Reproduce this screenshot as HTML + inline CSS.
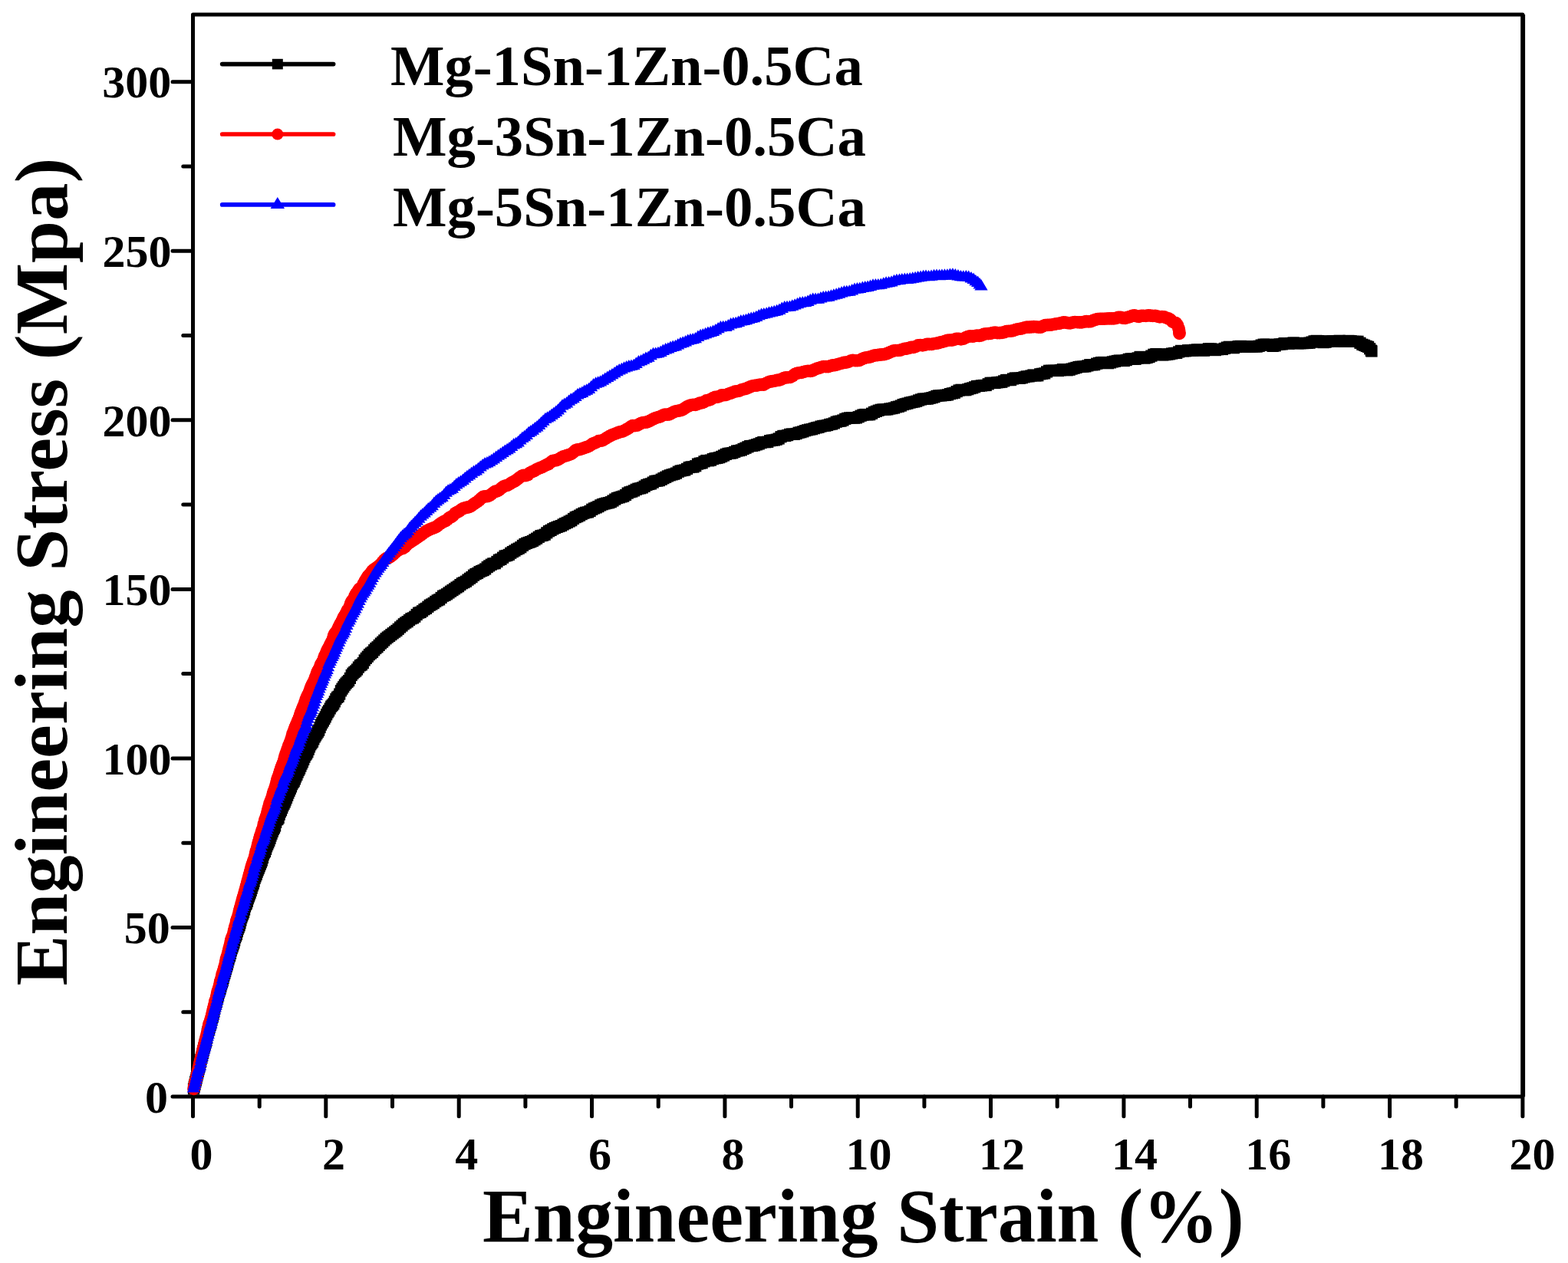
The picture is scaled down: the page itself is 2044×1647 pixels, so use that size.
<!DOCTYPE html>
<html><head><meta charset="utf-8"><title>Engineering stress-strain curves</title>
<style>html,body{margin:0;padding:0;background:#fff;}svg{display:block;}</style></head>
<body><svg width="2044" height="1647" viewBox="0 0 2044 1647">
<defs>
<marker id="sq" markerUnits="userSpaceOnUse" markerWidth="20" markerHeight="20" refX="10" refY="10" overflow="visible"><rect x="2.4" y="2.4" width="15.2" height="15.2" fill="#000"/></marker>
<marker id="ci" markerUnits="userSpaceOnUse" markerWidth="20" markerHeight="20" refX="10" refY="10" overflow="visible"><circle cx="10" cy="10" r="8.3" fill="#f00"/></marker>
<marker id="tr" markerUnits="userSpaceOnUse" markerWidth="24" markerHeight="24" refX="12" refY="12" overflow="visible"><path d="M12 2.4 L20.6 16.8 L3.4 16.8 Z" fill="#00f"/></marker>
<marker id="lsq" markerUnits="userSpaceOnUse" markerWidth="20" markerHeight="20" refX="10" refY="10" overflow="visible"><rect x="3" y="3.2" width="14" height="13.6" fill="#000"/></marker>
<marker id="lci" markerUnits="userSpaceOnUse" markerWidth="20" markerHeight="20" refX="10" refY="10" overflow="visible"><circle cx="10" cy="10" r="7.6" fill="#f00"/></marker>
<marker id="ltr" markerUnits="userSpaceOnUse" markerWidth="24" markerHeight="24" refX="12" refY="12" overflow="visible"><path d="M12 2 L21.2 17 L2.8 17 Z" fill="#00f"/></marker>
</defs>
<rect width="2044" height="1647" fill="#fff"/>
<path d="M225.0 1430.0H251.5 M238.8 1319.7H251.5 M225.0 1209.5H251.5 M238.8 1099.2H251.5 M225.0 988.9H251.5 M238.8 878.6H251.5 M225.0 768.4H251.5 M238.8 658.1H251.5 M225.0 547.8H251.5 M238.8 437.5H251.5 M225.0 327.2H251.5 M238.8 217.0H251.5 M225.0 106.7H251.5 M251.5 1430.0V1455.8 M338.2 1430.0V1443.0 M424.8 1430.0V1455.8 M511.5 1430.0V1443.0 M598.2 1430.0V1455.8 M684.9 1430.0V1443.0 M771.5 1430.0V1455.8 M858.2 1430.0V1443.0 M944.9 1430.0V1455.8 M1031.5 1430.0V1443.0 M1118.2 1430.0V1455.8 M1204.9 1430.0V1443.0 M1291.5 1430.0V1455.8 M1378.2 1430.0V1443.0 M1464.9 1430.0V1455.8 M1551.5 1430.0V1443.0 M1638.2 1430.0V1455.8 M1724.9 1430.0V1443.0 M1811.6 1430.0V1455.8 M1898.2 1430.0V1443.0 M1984.9 1430.0V1455.8" stroke="#000" stroke-width="5" stroke-linecap="round" fill="none"/>
<rect x="251.5" y="19.1" width="1733.4" height="1410.9" fill="none" stroke="#000" stroke-width="5" stroke-linejoin="round"/>
<line x1="1985.3" y1="19.1" x2="1985.3" y2="1430.0" stroke="#000" stroke-width="5.6"/>
<polyline points="252.5,1420.0 253.2,1417.1 254.0,1414.2 254.7,1410.8 255.4,1408.6 256.1,1405.8 256.9,1402.5 257.6,1399.9 258.3,1397.2 259.1,1394.1 259.8,1391.2 260.6,1388.1 261.3,1384.8 262.0,1381.7 262.8,1379.1 263.5,1376.6 264.3,1373.6 265.0,1370.2 265.8,1367.0 266.5,1364.4 267.3,1361.7 268.1,1359.2 268.8,1357.1 269.6,1353.3 270.3,1348.3 271.1,1345.3 271.9,1343.6 272.7,1341.3 273.4,1338.7 274.2,1336.6 275.0,1333.9 275.8,1329.8 276.6,1327.1 277.3,1325.5 278.1,1322.5 278.9,1318.8 279.7,1314.9 280.5,1311.5 281.3,1309.3 282.1,1306.6 282.9,1303.0 283.7,1300.2 284.5,1297.6 285.3,1294.6 286.2,1292.0 287.0,1289.5 287.8,1286.5 288.6,1283.6 289.4,1281.3 290.3,1278.8 291.1,1275.3 291.9,1272.0 292.8,1269.3 293.6,1266.6 294.5,1263.6 295.3,1260.6 296.2,1258.0 297.0,1254.8 297.9,1251.2 298.7,1248.6 299.6,1246.3 300.5,1243.3 301.3,1239.7 302.2,1236.8 303.1,1234.5 304.0,1231.8 304.9,1229.3 305.7,1226.2 306.6,1222.6 307.5,1220.5 308.4,1218.4 309.3,1214.7 310.2,1211.5 311.1,1209.3 312.1,1206.8 313.0,1203.8 313.9,1200.1 314.8,1196.6 315.7,1194.1 316.7,1191.8 317.6,1189.5 318.6,1186.1 319.5,1182.1 320.4,1179.6 321.4,1178.1 322.4,1175.3 323.3,1171.8 324.3,1169.1 325.2,1166.7 326.2,1164.2 327.2,1161.4 328.2,1158.2 329.2,1154.9 330.2,1152.3 331.1,1149.2 332.1,1145.4 333.1,1142.9 334.2,1140.4 335.2,1137.2 336.2,1134.7 337.2,1132.3 338.2,1129.8 339.3,1127.1 340.3,1124.6 341.3,1122.1 342.4,1118.6 343.4,1114.6 344.5,1112.0 345.5,1110.4 346.6,1107.3 347.6,1103.8 348.7,1101.2 349.8,1098.8 350.9,1096.3 352.0,1093.3 353.0,1090.0 354.1,1087.2 355.2,1084.4 356.3,1081.6 357.5,1079.6 358.6,1077.0 359.7,1072.3 360.8,1068.9 361.9,1068.3 363.1,1066.6 364.2,1062.2 365.4,1058.7 366.5,1056.6 367.7,1053.6 368.8,1050.6 370.0,1048.3 371.2,1045.9 372.3,1043.0 373.5,1040.3 374.7,1037.2 375.9,1034.1 377.1,1031.3 378.3,1028.6 379.5,1025.9 380.7,1022.7 381.9,1020.5 383.2,1018.8 384.4,1015.9 385.6,1012.9 386.9,1010.3 388.1,1007.2 389.4,1004.5 390.6,1002.2 391.9,999.1 393.1,996.1 394.4,993.7 395.7,990.6 397.0,987.2 398.3,984.6 399.6,982.9 400.9,980.7 402.2,977.3 403.5,973.9 404.8,970.9 406.1,969.0 407.5,967.2 408.8,964.0 410.2,961.0 411.5,958.9 412.9,956.7 414.3,954.6 415.7,952.2 417.1,948.6 418.5,945.1 419.9,942.5 421.3,940.1 422.8,937.5 424.2,934.9 425.7,931.8 427.2,928.9 428.6,926.9 430.2,924.0 431.7,921.2 433.2,919.7 434.8,917.9 436.3,914.9 437.9,911.6 439.5,909.4 441.1,908.3 442.7,905.1 444.4,900.8 446.0,898.2 447.7,895.8 449.4,893.2 451.1,891.1 452.9,889.3 454.6,887.6 456.4,884.4 458.2,880.5 460.0,878.2 461.8,876.5 463.7,875.0 465.5,873.0 467.4,870.1 469.4,867.8 471.3,866.9 473.3,864.7 475.2,861.0 477.3,858.4 479.3,856.2 481.4,853.7 483.4,852.0 485.5,850.5 487.7,847.8 489.8,845.5 492.0,843.8 494.2,841.4 496.4,839.1 498.6,837.2 500.8,835.0 503.1,832.8 505.3,831.0 507.6,829.4 509.9,827.6 512.2,825.8 514.6,824.1 516.9,822.4 519.2,820.3 521.6,818.0 524.0,816.0 526.3,813.8 528.7,812.1 531.1,810.7 533.5,808.6 535.9,806.8 538.4,805.9 540.8,804.2 543.2,801.5 545.6,799.2 548.1,798.5 550.5,796.8 553.0,794.7 555.4,793.4 557.9,791.3 560.3,789.2 562.8,788.0 565.2,786.6 567.7,784.5 570.2,782.9 572.6,781.9 575.1,779.5 577.6,777.2 580.1,776.2 582.5,774.8 585.0,773.0 587.5,771.2 590.0,769.6 592.5,767.9 595.0,766.1 597.5,764.7 599.9,762.6 602.4,760.7 604.9,759.6 607.4,758.2 610.0,756.1 612.5,754.3 615.0,752.6 617.5,750.2 620.0,748.6 622.5,747.5 625.0,745.7 627.6,744.5 630.1,743.6 632.6,742.0 635.2,739.6 637.7,737.9 640.3,736.2 642.8,734.9 645.3,734.7 647.9,732.5 650.4,730.2 653.0,729.3 655.6,727.2 658.1,725.0 660.7,724.5 663.3,723.4 665.8,721.2 668.4,719.6 671.0,718.1 673.6,716.4 676.2,715.2 678.8,713.7 681.4,711.4 684.0,709.5 686.6,708.3 689.2,707.4 691.8,706.6 694.4,705.4 697.0,703.8 699.6,702.2 702.3,700.3 704.9,698.7 707.5,698.2 710.2,697.2 712.8,694.8 715.5,692.7 718.1,691.4 720.8,689.8 723.4,688.5 726.1,687.4 728.7,686.5 731.4,685.6 734.1,684.0 736.7,682.6 739.4,681.4 742.1,680.0 744.8,678.7 747.5,676.5 750.2,674.6 752.8,673.6 755.5,672.2 758.2,670.6 760.9,669.2 763.7,668.3 766.4,667.9 769.1,666.5 771.8,664.3 774.5,662.9 777.2,661.9 779.9,660.6 782.7,658.9 785.4,657.7 788.1,656.9 790.8,656.1 793.6,655.7 796.3,654.7 799.0,653.0 801.8,651.1 804.5,649.5 807.2,648.8 810.0,647.9 812.7,647.1 815.5,645.5 818.2,643.1 821.0,641.8 823.7,641.1 826.4,639.9 829.2,638.3 831.9,637.2 834.7,636.8 837.4,635.9 840.2,634.2 842.9,632.4 845.7,631.5 848.4,630.9 851.2,629.1 853.9,627.4 856.7,627.1 859.4,626.6 862.2,625.2 864.9,623.7 867.7,622.3 870.4,620.9 873.2,619.8 876.0,618.9 878.8,618.2 881.5,617.1 884.3,615.2 887.1,614.0 889.9,613.5 892.7,613.0 895.5,611.4 898.3,609.5 901.1,608.9 903.9,609.0 906.7,607.7 909.5,605.1 912.3,604.2 915.1,603.8 918.0,601.8 920.8,600.5 923.6,600.8 926.4,600.1 929.3,598.6 932.1,597.7 934.9,597.3 937.8,596.6 940.6,595.4 943.5,594.0 946.3,592.4 949.1,591.4 952.0,591.1 954.8,590.7 957.7,589.4 960.6,588.0 963.4,587.6 966.3,586.9 969.1,585.4 972.0,584.2 974.9,582.8 977.7,581.6 980.6,581.4 983.5,580.8 986.3,579.8 989.2,578.9 992.1,577.5 994.9,576.5 997.8,576.7 1000.7,576.3 1003.6,574.7 1006.4,574.1 1009.3,574.0 1012.2,573.2 1015.1,572.0 1018.0,569.7 1020.9,568.4 1023.7,568.4 1026.6,567.6 1029.5,566.4 1032.4,566.0 1035.3,566.3 1038.2,565.5 1041.1,564.2 1043.9,563.7 1046.8,562.8 1049.7,561.6 1052.6,560.8 1055.5,560.1 1058.4,559.7 1061.3,558.7 1064.2,557.8 1067.1,557.2 1070.0,556.1 1072.8,555.4 1075.7,555.2 1078.6,554.5 1081.5,553.5 1084.4,553.0 1087.3,551.9 1090.2,550.2 1093.1,549.4 1096.0,549.1 1098.9,548.0 1101.8,546.3 1104.7,545.4 1107.6,544.9 1110.5,544.7 1113.4,545.1 1116.3,544.9 1119.2,543.7 1122.1,542.2 1125.0,541.0 1127.9,540.5 1130.8,540.8 1133.7,540.7 1136.6,539.2 1139.5,537.4 1142.4,536.3 1145.3,535.2 1148.2,534.3 1151.1,534.0 1154.0,534.1 1156.9,533.9 1159.8,533.0 1162.7,532.6 1165.6,532.0 1168.5,530.8 1171.4,530.2 1174.3,529.1 1177.2,527.6 1180.1,526.8 1183.0,526.1 1186.0,525.1 1188.9,524.5 1191.8,524.0 1194.7,523.2 1197.6,522.0 1200.5,521.0 1203.4,520.1 1206.3,520.2 1209.3,520.1 1212.2,519.2 1215.1,518.6 1218.0,517.7 1220.9,516.4 1223.8,515.9 1226.8,515.9 1229.7,515.5 1232.6,515.3 1235.5,514.9 1238.4,513.6 1241.4,512.9 1244.3,512.3 1247.2,510.6 1250.1,509.0 1253.0,508.3 1256.0,508.6 1258.9,508.7 1261.8,507.7 1264.7,506.6 1267.7,505.9 1270.6,504.8 1273.5,503.5 1276.5,503.4 1279.4,502.9 1282.3,502.5 1285.2,502.5 1288.2,500.8 1291.1,499.3 1294.0,499.4 1297.0,499.5 1299.9,498.8 1302.8,498.5 1305.8,498.2 1308.7,496.9 1311.7,495.5 1314.6,495.5 1317.5,495.6 1320.5,494.0 1323.4,493.0 1326.3,493.3 1329.3,493.3 1332.2,492.8 1335.2,491.8 1338.1,490.9 1341.1,490.9 1344.0,490.0 1347.0,489.0 1349.9,489.9 1352.8,489.8 1355.8,487.8 1358.7,487.3 1361.7,486.9 1364.6,484.9 1367.6,483.3 1370.5,483.3 1373.5,483.4 1376.4,483.4 1379.4,483.5 1382.3,482.7 1385.3,481.7 1388.3,482.2 1391.2,482.8 1394.2,482.2 1397.1,481.1 1400.1,480.2 1403.0,479.4 1406.0,478.5 1408.9,478.2 1411.9,478.1 1414.9,477.9 1417.8,476.9 1420.8,475.7 1423.7,475.8 1426.7,475.6 1429.7,474.2 1432.6,473.3 1435.6,472.7 1438.6,472.5 1441.5,473.4 1444.5,473.7 1447.5,472.9 1450.4,471.9 1453.4,471.2 1456.4,470.5 1459.3,470.1 1462.3,470.4 1465.3,470.5 1468.2,469.6 1471.2,468.4 1474.2,467.9 1477.1,468.1 1480.1,468.3 1483.1,466.9 1486.1,465.4 1489.0,466.2 1492.0,467.1 1495.0,466.5 1498.0,465.6 1500.9,464.1 1503.9,462.3 1506.9,461.6 1509.9,461.9 1512.8,462.5 1515.8,462.9 1518.8,462.6 1521.8,462.1 1524.7,461.8 1527.7,461.0 1530.7,460.5 1533.7,460.4 1536.7,458.9 1539.6,457.4 1542.6,457.9 1545.6,457.8 1548.6,456.8 1551.6,457.1 1554.6,457.3 1557.5,456.3 1560.5,456.0 1563.5,456.2 1566.5,456.7 1569.5,457.2 1572.5,456.4 1575.4,454.8 1578.4,454.9 1581.4,456.1 1584.4,456.6 1587.4,455.7 1590.4,455.4 1593.4,455.5 1596.4,454.4 1599.3,453.1 1602.3,452.3 1605.3,453.1 1608.3,453.7 1611.3,452.5 1614.3,451.6 1617.3,451.4 1620.3,451.9 1623.3,452.3 1626.3,451.9 1629.2,451.9 1632.2,451.9 1635.2,451.9 1638.2,452.1 1641.2,451.3 1644.2,450.1 1647.2,449.2 1650.2,449.2 1653.2,449.5 1656.2,450.2 1659.2,451.4 1662.2,450.9 1665.2,449.2 1668.2,448.9 1671.2,448.9 1674.1,447.6 1677.1,447.6 1680.1,448.2 1683.1,447.5 1686.1,447.0 1689.1,447.4 1692.1,447.8 1695.1,447.7 1698.1,447.6 1701.1,447.5 1704.1,447.4 1707.1,447.2 1710.1,446.1 1713.1,444.9 1716.1,444.4 1719.1,444.6 1722.1,445.7 1725.1,446.6 1728.1,446.2 1731.1,445.2 1734.1,444.8 1737.1,444.9 1740.1,445.0 1743.1,444.6 1746.1,444.3 1749.1,445.0 1752.1,445.3 1755.1,444.6 1758.1,444.4 1761.1,444.7 1764.1,445.4 1767.1,445.4 1770.0,445.3 1773.0,447.3 1775.9,449.3 1778.6,450.3 1781.2,451.5 1783.6,452.3 1785.7,454.8 1787.4,457.2 1788.0,458.0" fill="none" stroke="#000" stroke-width="5" stroke-linejoin="round" stroke-linecap="round" marker-start="url(#sq)" marker-mid="url(#sq)" marker-end="url(#sq)"/>
<polyline points="252.5,1420.0 253.2,1417.1 253.8,1414.2 254.5,1410.2 255.2,1409.0 255.9,1406.5 256.6,1402.8 257.3,1400.0 258.0,1396.9 258.7,1393.8 259.3,1391.1 260.0,1387.9 260.7,1384.4 261.4,1381.6 262.1,1379.1 262.9,1376.4 263.6,1373.4 264.3,1370.2 265.0,1367.1 265.7,1364.3 266.4,1361.9 267.1,1359.2 267.8,1356.2 268.6,1352.9 269.3,1349.7 270.0,1347.8 270.7,1345.1 271.5,1340.4 272.2,1336.4 272.9,1334.3 273.7,1332.6 274.4,1330.2 275.1,1327.6 275.9,1324.6 276.6,1321.3 277.4,1318.2 278.1,1315.3 278.8,1312.3 279.6,1308.7 280.3,1305.9 281.1,1304.0 281.8,1301.4 282.6,1297.4 283.3,1293.7 284.1,1291.5 284.9,1289.3 285.6,1286.6 286.4,1283.3 287.1,1279.9 287.9,1277.7 288.7,1274.9 289.4,1271.1 290.2,1268.7 291.0,1266.5 291.7,1263.5 292.5,1261.2 293.3,1258.8 294.0,1254.9 294.8,1250.9 295.6,1248.0 296.4,1245.5 297.2,1242.6 297.9,1239.5 298.7,1236.8 299.5,1233.9 300.3,1230.1 301.1,1226.2 301.8,1223.7 302.6,1222.3 303.4,1220.2 304.2,1217.4 305.0,1213.8 305.8,1210.4 306.6,1207.8 307.4,1204.6 308.1,1201.0 308.9,1198.7 309.7,1197.1 310.5,1194.2 311.3,1190.7 312.1,1187.3 312.9,1184.4 313.7,1182.0 314.5,1178.8 315.3,1175.5 316.1,1172.5 316.9,1169.7 317.7,1167.5 318.5,1164.9 319.3,1161.8 320.1,1159.0 320.9,1155.8 321.7,1152.5 322.5,1149.4 323.3,1146.7 324.1,1144.0 324.9,1140.8 325.7,1137.7 326.5,1134.7 327.3,1131.5 328.2,1128.5 329.0,1126.3 329.8,1124.4 330.6,1121.9 331.4,1119.5 332.2,1117.0 333.0,1113.2 333.8,1109.9 334.7,1107.3 335.5,1104.0 336.3,1100.8 337.1,1097.8 338.0,1094.4 338.8,1091.4 339.6,1089.2 340.5,1086.3 341.3,1083.4 342.1,1081.6 343.0,1078.7 343.8,1074.9 344.7,1071.6 345.5,1068.9 346.4,1066.4 347.2,1064.0 348.1,1061.0 348.9,1057.3 349.8,1054.1 350.7,1051.1 351.5,1047.9 352.4,1045.4 353.3,1043.3 354.2,1041.2 355.0,1038.3 355.9,1034.8 356.8,1031.8 357.7,1029.5 358.6,1027.2 359.5,1024.0 360.4,1020.4 361.3,1016.9 362.2,1014.0 363.2,1011.6 364.1,1008.9 365.0,1005.8 365.9,1002.7 366.9,1000.1 367.8,997.7 368.8,995.4 369.7,992.5 370.7,989.2 371.6,985.8 372.6,982.9 373.6,980.0 374.6,977.1 375.5,974.6 376.5,971.9 377.5,969.4 378.5,967.0 379.5,964.1 380.5,960.4 381.5,956.8 382.6,954.1 383.6,951.3 384.6,948.4 385.7,946.4 386.7,943.8 387.8,941.0 388.8,938.8 389.9,936.1 391.0,932.6 392.0,929.3 393.1,927.0 394.2,924.2 395.3,921.3 396.4,919.1 397.5,915.8 398.6,912.1 399.7,909.4 400.9,907.1 402.0,905.2 403.1,902.4 404.3,898.5 405.4,895.5 406.6,893.3 407.7,891.1 408.9,889.1 410.1,886.1 411.3,882.8 412.5,879.4 413.7,876.1 414.9,874.1 416.1,872.1 417.3,868.7 418.5,865.8 419.7,864.0 421.0,861.9 422.2,858.2 423.5,854.9 424.7,852.4 426.0,849.1 427.2,846.5 428.5,844.3 429.8,841.6 431.1,839.0 432.4,836.7 433.7,833.5 435.0,829.2 436.3,826.3 437.6,824.9 439.0,823.3 440.3,820.4 441.6,817.3 443.0,814.7 444.3,812.4 445.7,809.7 447.1,806.6 448.5,803.8 449.9,802.0 451.2,799.3 452.7,796.2 454.1,794.5 455.5,791.6 456.9,787.4 458.3,784.3 459.8,782.7 461.3,780.5 462.7,776.8 464.2,774.0 465.8,772.3 467.3,769.6 468.9,767.6 470.6,766.9 472.3,764.6 474.0,760.8 475.7,757.6 477.6,754.6 479.4,751.5 481.3,749.5 483.3,747.3 485.3,744.4 487.4,742.5 489.5,741.4 491.7,739.7 493.9,737.8 496.2,735.8 498.5,733.0 500.8,730.3 503.2,728.4 505.6,727.6 508.0,726.6 510.4,724.8 512.9,722.8 515.3,720.4 517.8,718.5 520.3,716.7 522.7,715.5 525.2,715.2 527.7,713.4 530.2,710.5 532.7,708.5 535.2,706.9 537.7,705.2 540.2,703.7 542.7,701.9 545.2,700.1 547.7,698.5 550.2,696.7 552.8,694.7 555.3,692.9 557.8,691.6 560.3,690.4 562.9,689.3 565.4,688.4 567.9,687.5 570.5,685.6 573.0,683.5 575.6,681.8 578.1,680.3 580.7,679.3 583.3,677.3 585.8,675.0 588.4,674.1 590.9,672.2 593.5,669.2 596.1,667.8 598.7,666.6 601.2,664.5 603.8,663.1 606.4,662.3 609.0,661.6 611.6,661.1 614.2,660.0 616.8,657.9 619.4,656.1 622.0,654.5 624.6,652.4 627.2,649.9 629.8,647.9 632.4,647.3 635.0,647.3 637.7,646.5 640.3,644.7 642.9,642.5 645.5,640.9 648.2,640.4 650.8,639.0 653.4,636.6 656.1,634.6 658.7,633.5 661.4,632.9 664.0,631.5 666.7,629.6 669.3,628.4 672.0,626.9 674.6,624.8 677.3,622.7 680.0,620.9 682.6,619.9 685.3,620.2 688.0,619.3 690.6,616.7 693.3,615.4 696.0,614.3 698.7,612.6 701.4,611.2 704.1,610.1 706.8,609.2 709.4,607.7 712.1,606.4 714.8,605.3 717.5,603.2 720.2,601.1 722.9,600.5 725.7,600.1 728.4,598.8 731.1,597.1 733.8,595.5 736.5,594.7 739.2,593.9 742.0,593.0 744.7,592.0 747.4,589.8 750.1,587.3 752.9,586.3 755.6,586.2 758.3,585.3 761.1,584.2 763.8,583.3 766.6,582.5 769.3,581.0 772.1,578.9 774.8,577.9 777.6,576.7 780.3,575.1 783.1,574.8 785.8,574.2 788.6,572.5 791.4,570.7 794.1,569.1 796.9,567.6 799.7,566.5 802.4,565.5 805.2,564.4 808.0,563.4 810.8,562.8 813.6,561.7 816.4,560.1 819.1,558.7 821.9,556.5 824.7,555.0 827.5,555.1 830.3,554.8 833.1,553.4 835.9,551.7 838.7,551.0 841.5,550.8 844.3,550.1 847.1,548.8 849.9,547.3 852.8,545.8 855.6,544.7 858.4,544.0 861.2,543.1 864.0,541.5 866.9,540.5 869.7,540.7 872.5,540.4 875.3,538.9 878.2,537.3 881.0,536.3 883.8,535.8 886.7,535.3 889.5,534.4 892.3,532.6 895.2,530.6 898.0,529.4 900.9,528.2 903.7,527.7 906.6,528.0 909.4,526.9 912.3,525.6 915.1,525.3 918.0,524.1 920.8,522.4 923.7,521.8 926.5,520.8 929.4,519.0 932.3,517.8 935.1,517.8 938.0,516.8 940.8,515.2 943.7,515.3 946.6,515.0 949.4,513.7 952.3,512.8 955.2,511.7 958.1,510.5 960.9,510.2 963.8,509.7 966.7,508.2 969.6,507.5 972.4,506.9 975.3,505.6 978.2,504.4 981.1,503.2 984.0,502.7 986.8,502.6 989.7,501.8 992.6,501.5 995.5,501.6 998.4,500.0 1001.3,498.5 1004.2,497.6 1007.1,497.1 1010.0,496.7 1012.8,495.9 1015.7,495.6 1018.6,494.6 1021.5,493.1 1024.4,492.4 1027.3,492.2 1030.2,492.0 1033.1,490.3 1036.0,488.0 1038.9,486.7 1041.8,486.2 1044.7,485.9 1047.6,485.0 1050.5,484.2 1053.4,483.8 1056.3,484.0 1059.2,483.4 1062.1,481.7 1065.1,480.6 1068.0,479.8 1070.9,478.7 1073.8,478.0 1076.7,478.1 1079.6,478.1 1082.5,477.2 1085.4,476.4 1088.3,476.2 1091.3,475.4 1094.2,474.5 1097.1,473.7 1100.0,472.9 1102.9,472.6 1105.9,472.0 1108.8,470.5 1111.7,469.9 1114.6,470.2 1117.5,470.3 1120.5,469.9 1123.4,468.3 1126.3,467.1 1129.2,466.3 1132.2,465.9 1135.1,465.3 1138.0,464.0 1140.9,463.4 1143.9,463.1 1146.8,462.6 1149.7,462.4 1152.7,462.1 1155.6,461.3 1158.5,460.1 1161.5,458.7 1164.4,457.6 1167.3,457.0 1170.3,457.0 1173.2,456.8 1176.1,455.7 1179.1,454.8 1182.0,454.6 1185.0,453.8 1187.9,452.9 1190.8,452.9 1193.8,452.0 1196.7,450.3 1199.7,450.0 1202.6,450.4 1205.5,449.8 1208.5,448.8 1211.4,448.9 1214.4,449.0 1217.3,448.2 1220.3,447.8 1223.2,447.3 1226.2,446.3 1229.1,445.7 1232.1,444.8 1235.0,443.8 1238.0,443.5 1240.9,443.6 1243.9,442.9 1246.8,441.7 1249.8,441.7 1252.7,442.4 1255.7,441.8 1258.7,440.3 1261.6,439.0 1264.6,438.4 1267.5,438.7 1270.5,438.2 1273.4,437.5 1276.4,437.9 1279.4,437.4 1282.3,435.9 1285.3,435.2 1288.3,435.1 1291.2,434.9 1294.2,434.0 1297.1,433.5 1300.1,434.1 1303.1,434.1 1306.0,433.9 1309.0,433.3 1312.0,432.1 1314.9,431.7 1317.9,431.7 1320.9,431.1 1323.8,430.0 1326.8,429.2 1329.8,428.8 1332.8,428.2 1335.7,427.2 1338.7,426.6 1341.7,426.7 1344.6,426.4 1347.6,426.1 1350.6,426.2 1353.6,426.7 1356.5,426.8 1359.5,425.4 1362.5,424.1 1365.5,423.9 1368.4,423.8 1371.4,423.5 1374.4,422.8 1377.4,422.2 1380.3,421.9 1383.3,421.2 1386.3,420.4 1389.3,420.6 1392.3,421.3 1395.2,421.4 1398.2,420.6 1401.2,420.0 1404.2,420.2 1407.2,420.4 1410.2,420.4 1413.1,419.7 1416.1,419.1 1419.1,419.4 1422.1,419.1 1425.1,417.8 1428.1,416.8 1431.0,416.0 1434.0,415.8 1437.0,415.8 1440.0,415.7 1443.0,415.5 1446.0,415.4 1449.0,415.4 1452.0,415.4 1454.9,414.9 1457.9,413.9 1460.9,413.8 1463.9,414.8 1466.9,414.9 1469.9,413.9 1472.9,413.1 1475.9,411.9 1478.9,411.4 1481.9,412.5 1484.8,412.9 1487.8,411.8 1490.8,411.7 1493.8,412.0 1496.8,411.3 1499.8,411.6 1502.8,412.0 1505.8,411.7 1508.8,412.6 1511.8,413.5 1514.7,413.0 1517.5,413.3 1520.3,414.5 1523.1,415.3 1525.8,416.9 1528.4,419.5 1530.9,420.7 1533.1,421.4 1535.0,424.2 1536.3,427.8 1537.1,430.5 1537.4,433.5 1537.5,435.0" fill="none" stroke="#f00" stroke-width="5" stroke-linejoin="round" stroke-linecap="round" marker-start="url(#ci)" marker-mid="url(#ci)" marker-end="url(#ci)"/>
<polyline points="252.4,1419.7 253.3,1416.3 254.2,1412.9 255.1,1409.3 256.0,1405.8 256.9,1402.1 257.8,1398.3 258.7,1395.2 259.7,1393.0 260.6,1390.8 261.5,1386.8 262.4,1382.3 263.3,1378.7 264.2,1375.1 265.1,1371.6 266.0,1368.6 266.9,1365.7 267.8,1362.5 268.6,1359.2 269.5,1355.6 270.4,1352.4 271.3,1349.6 272.2,1345.8 273.1,1341.8 274.0,1338.5 274.9,1335.9 275.8,1332.8 276.7,1328.7 277.6,1325.1 278.5,1321.8 279.4,1318.0 280.3,1314.7 281.2,1312.0 282.1,1308.6 283.0,1305.1 283.9,1301.0 284.8,1296.9 285.7,1294.1 286.7,1290.5 287.6,1286.8 288.5,1284.3 289.4,1281.4 290.3,1277.3 291.2,1273.6 292.1,1270.6 293.0,1267.9 294.0,1265.0 294.9,1261.6 295.8,1258.0 296.7,1254.6 297.6,1250.6 298.6,1246.9 299.5,1244.1 300.4,1240.9 301.4,1237.0 302.3,1233.4 303.2,1229.7 304.2,1226.0 305.1,1223.5 306.1,1220.3 307.0,1216.2 307.9,1212.9 308.9,1209.9 309.9,1206.4 310.8,1202.4 311.8,1199.3 312.7,1197.1 313.7,1193.6 314.7,1189.1 315.6,1185.9 316.6,1183.2 317.6,1180.1 318.6,1176.9 319.6,1173.1 320.5,1169.4 321.5,1166.4 322.5,1163.6 323.5,1160.0 324.5,1155.8 325.5,1152.5 326.5,1150.3 327.6,1147.4 328.6,1143.9 329.6,1140.5 330.6,1136.6 331.6,1132.5 332.7,1128.9 333.7,1126.0 334.8,1123.1 335.8,1119.1 336.9,1115.5 337.9,1112.7 339.0,1109.8 340.0,1106.3 341.1,1102.0 342.2,1098.4 343.3,1096.1 344.4,1093.7 345.4,1090.4 346.5,1086.5 347.6,1082.9 348.8,1079.7 349.9,1076.5 351.0,1073.2 352.1,1069.5 353.3,1066.2 354.4,1063.2 355.5,1060.1 356.7,1057.4 357.9,1054.9 359.0,1051.7 360.2,1047.2 361.4,1042.5 362.6,1039.1 363.8,1036.4 365.0,1032.9 366.2,1029.4 367.4,1027.1 368.6,1024.1 369.8,1019.7 371.1,1016.0 372.3,1013.1 373.6,1010.5 374.8,1008.1 376.1,1005.1 377.4,1001.3 378.6,997.8 379.9,994.9 381.2,992.0 382.4,988.8 383.7,985.0 385.0,980.9 386.3,977.3 387.5,974.5 388.8,972.1 390.1,968.7 391.4,964.7 392.6,961.4 393.9,958.2 395.1,954.6 396.4,951.2 397.6,949.1 398.9,946.5 400.1,942.3 401.3,938.0 402.6,934.3 403.8,931.3 405.0,929.0 406.2,926.1 407.5,922.6 408.7,919.2 409.9,915.9 411.1,912.1 412.3,908.3 413.6,905.3 414.8,902.3 416.0,898.8 417.3,895.4 418.5,892.1 419.8,889.3 421.0,886.5 422.3,882.9 423.6,879.7 424.9,877.0 426.2,874.2 427.5,870.5 428.8,866.3 430.2,863.3 431.5,860.3 432.9,857.2 434.3,854.6 435.7,851.7 437.1,848.3 438.5,845.0 440.0,841.8 441.5,838.1 442.9,834.8 444.4,831.8 445.9,828.8 447.4,826.4 449.0,823.7 450.5,820.3 452.0,816.2 453.6,812.5 455.2,809.7 456.7,806.7 458.3,803.3 459.9,800.2 461.5,797.5 463.1,794.6 464.8,791.2 466.4,787.9 468.0,784.3 469.7,780.7 471.3,777.6 473.0,774.7 474.7,772.4 476.4,769.9 478.2,766.8 479.9,764.0 481.7,761.3 483.5,757.8 485.3,754.3 487.2,750.8 489.1,747.6 491.0,744.9 492.9,741.9 494.9,739.4 496.8,737.1 498.8,734.3 500.9,731.0 502.9,727.8 505.0,725.1 507.1,722.2 509.2,719.5 511.3,716.9 513.5,714.1 515.7,711.1 517.9,708.2 520.1,705.2 522.4,702.2 524.7,699.8 527.0,697.7 529.3,696.0 531.6,693.3 534.0,689.6 536.3,687.2 538.7,684.8 541.1,682.1 543.5,679.9 545.9,676.9 548.4,673.9 550.8,671.8 553.3,669.8 555.8,667.2 558.2,664.6 560.8,662.8 563.3,660.4 565.8,657.2 568.4,654.7 570.9,652.6 573.5,650.8 576.1,649.1 578.8,646.3 581.4,643.0 584.1,640.8 586.8,639.5 589.5,638.0 592.2,635.3 594.9,632.7 597.7,630.7 600.5,629.0 603.3,627.2 606.1,624.6 608.9,622.3 611.7,620.4 614.6,618.1 617.5,616.0 620.4,614.6 623.3,612.4 626.2,609.8 629.1,607.5 632.0,605.7 634.9,604.6 637.8,603.2 640.7,601.3 643.6,599.4 646.6,597.2 649.5,595.0 652.4,593.2 655.3,591.1 658.2,589.0 661.1,587.4 663.9,585.6 666.8,583.1 669.6,580.7 672.5,579.4 675.3,577.6 678.1,574.8 680.9,572.2 683.6,570.4 686.4,568.1 689.1,565.3 691.8,563.6 694.5,561.9 697.3,559.5 700.0,557.7 702.7,555.3 705.4,552.5 708.1,550.0 710.9,547.3 713.6,545.8 716.4,544.4 719.1,542.2 721.9,540.2 724.7,538.1 727.4,535.8 730.2,532.9 733.0,529.8 735.8,528.2 738.7,526.6 741.5,524.0 744.3,521.9 747.2,520.5 750.1,518.1 753.0,515.6 755.9,514.3 758.8,513.1 761.7,511.2 764.7,509.9 767.6,508.3 770.6,505.5 773.6,502.7 776.6,500.9 779.6,499.9 782.6,498.8 785.7,497.0 788.7,495.0 791.8,493.1 794.8,491.4 797.9,489.5 801.0,487.5 804.1,485.4 807.2,483.7 810.3,482.4 813.5,480.8 816.6,479.6 819.8,478.7 822.9,478.0 826.1,477.3 829.2,475.1 832.4,472.7 835.6,471.5 838.7,469.9 841.9,468.2 845.1,467.0 848.3,464.4 851.5,462.4 854.7,462.0 857.9,461.4 861.1,460.1 864.3,458.1 867.6,456.6 870.8,455.8 874.0,454.1 877.2,453.1 880.5,452.4 883.7,450.6 887.0,448.9 890.2,447.9 893.5,446.6 896.7,445.0 900.0,444.0 903.2,443.5 906.5,442.5 909.8,440.2 913.1,438.4 916.3,437.6 919.6,436.4 922.9,435.2 926.2,434.3 929.5,433.2 932.8,431.5 936.1,429.5 939.4,427.6 942.7,427.3 946.0,427.2 949.3,425.6 952.6,423.7 955.9,422.8 959.2,422.4 962.5,421.2 965.8,419.7 969.2,419.1 972.5,418.4 975.8,417.1 979.2,416.1 982.5,415.5 985.8,414.3 989.2,412.5 992.5,411.2 995.8,410.5 999.2,409.8 1002.5,408.8 1005.9,408.0 1009.2,407.3 1012.6,406.4 1015.9,405.1 1019.3,403.1 1022.7,401.5 1026.0,401.3 1029.4,401.0 1032.7,399.9 1036.1,398.8 1039.5,397.4 1042.8,396.1 1046.2,395.5 1049.6,395.3 1053.0,394.1 1056.3,392.4 1059.7,391.1 1063.1,391.0 1066.5,391.0 1069.9,389.7 1073.2,388.5 1076.6,388.4 1080.0,387.9 1083.4,386.8 1086.8,385.8 1090.2,384.9 1093.6,383.9 1097.0,382.7 1100.4,381.7 1103.8,381.3 1107.2,380.9 1110.6,379.6 1114.0,378.0 1117.4,377.6 1120.8,377.3 1124.3,376.2 1127.7,375.6 1131.1,375.2 1134.5,374.1 1138.0,372.9 1141.4,372.5 1144.8,372.5 1148.3,372.0 1151.7,370.8 1155.1,369.9 1158.6,369.5 1162.0,368.8 1165.5,367.3 1168.9,366.4 1172.4,366.2 1175.8,365.5 1179.3,365.1 1182.7,365.2 1186.2,364.6 1189.7,363.9 1193.1,363.4 1196.6,362.7 1200.1,362.2 1203.6,361.4 1207.0,361.1 1210.5,361.5 1214.0,361.0 1217.5,360.3 1221.0,360.2 1224.5,360.4 1227.9,360.1 1231.4,359.9 1234.9,359.8 1238.4,359.0 1241.9,358.8 1245.4,359.6 1248.9,360.7 1252.4,361.5 1255.8,361.8 1259.3,361.6 1262.7,362.2 1266.0,363.6 1269.1,365.2 1271.9,367.5 1274.6,369.2 1277.1,371.7 1279.0,373.6" fill="none" stroke="#00f" stroke-width="5" stroke-linejoin="round" stroke-linecap="round" marker-start="url(#tr)" marker-mid="url(#tr)" marker-end="url(#tr)"/>
<text x="223.3" y="127.4" text-anchor="end" font-size="60" font-family="'Liberation Serif','Times New Roman',serif" font-weight="bold">300</text>
<text x="223.5" y="347.9" text-anchor="end" font-size="60" font-family="'Liberation Serif','Times New Roman',serif" font-weight="bold">250</text>
<text x="223.6" y="568.5" text-anchor="end" font-size="60" font-family="'Liberation Serif','Times New Roman',serif" font-weight="bold">200</text>
<text x="223.6" y="789.1" text-anchor="end" font-size="60" font-family="'Liberation Serif','Times New Roman',serif" font-weight="bold">150</text>
<text x="223.5" y="1009.6" text-anchor="end" font-size="60" font-family="'Liberation Serif','Times New Roman',serif" font-weight="bold">100</text>
<text x="221.8" y="1230.2" text-anchor="end" font-size="60" font-family="'Liberation Serif','Times New Roman',serif" font-weight="bold">50</text>
<text x="219.1" y="1450.7" text-anchor="end" font-size="60" font-family="'Liberation Serif','Times New Roman',serif" font-weight="bold">0</text>
<text x="262.5" y="1525.0" text-anchor="middle" font-size="60" font-family="'Liberation Serif','Times New Roman',serif" font-weight="bold">0</text>
<text x="434.9" y="1525.0" text-anchor="middle" font-size="60" font-family="'Liberation Serif','Times New Roman',serif" font-weight="bold">2</text>
<text x="608.3" y="1525.0" text-anchor="middle" font-size="60" font-family="'Liberation Serif','Times New Roman',serif" font-weight="bold">4</text>
<text x="782.0" y="1525.0" text-anchor="middle" font-size="60" font-family="'Liberation Serif','Times New Roman',serif" font-weight="bold">6</text>
<text x="955.5" y="1525.0" text-anchor="middle" font-size="60" font-family="'Liberation Serif','Times New Roman',serif" font-weight="bold">8</text>
<text x="1132.6" y="1525.0" text-anchor="middle" font-size="60" font-family="'Liberation Serif','Times New Roman',serif" font-weight="bold">10</text>
<text x="1305.9" y="1525.0" text-anchor="middle" font-size="60" font-family="'Liberation Serif','Times New Roman',serif" font-weight="bold">12</text>
<text x="1478.9" y="1525.0" text-anchor="middle" font-size="60" font-family="'Liberation Serif','Times New Roman',serif" font-weight="bold">14</text>
<text x="1653.2" y="1525.0" text-anchor="middle" font-size="60" font-family="'Liberation Serif','Times New Roman',serif" font-weight="bold">16</text>
<text x="1825.9" y="1525.0" text-anchor="middle" font-size="60" font-family="'Liberation Serif','Times New Roman',serif" font-weight="bold">18</text>
<text x="1997.5" y="1525.0" text-anchor="middle" font-size="60" font-family="'Liberation Serif','Times New Roman',serif" font-weight="bold">20</text>
<text x="629.0" y="1618.8" font-size="99" textLength="992.6" lengthAdjust="spacingAndGlyphs" font-family="'Liberation Serif','Times New Roman',serif" font-weight="bold">Engineering Strain (%)</text>
<text transform="translate(86.8 1285.6) rotate(-90)" x="0" y="0" font-size="98" textLength="1080" lengthAdjust="spacingAndGlyphs" font-family="'Liberation Serif','Times New Roman',serif" font-weight="bold">Engineering Stress (Mpa)</text>
<polyline points="289.7,83.6 361.8,83.6 434.6,83.6" fill="none" stroke="#000" stroke-width="5.7" stroke-linecap="round" marker-mid="url(#lsq)"/>
<text x="509" y="110.7" font-size="75" textLength="615.8" lengthAdjust="spacingAndGlyphs" font-family="'Liberation Serif','Times New Roman',serif" font-weight="bold">Mg-1Sn-1Zn-0.5Ca</text>
<polyline points="289.7,175.0 361.8,175.0 434.6,175.0" fill="none" stroke="#f00" stroke-width="5.7" stroke-linecap="round" marker-mid="url(#lci)"/>
<text x="512" y="202.6" font-size="75" textLength="616.8" lengthAdjust="spacingAndGlyphs" font-family="'Liberation Serif','Times New Roman',serif" font-weight="bold">Mg-3Sn-1Zn-0.5Ca</text>
<polyline points="289.7,266.9 361.8,266.9 434.6,266.9" fill="none" stroke="#00f" stroke-width="5.7" stroke-linecap="round" marker-mid="url(#ltr)"/>
<text x="512" y="294.6" font-size="75" textLength="616.8" lengthAdjust="spacingAndGlyphs" font-family="'Liberation Serif','Times New Roman',serif" font-weight="bold">Mg-5Sn-1Zn-0.5Ca</text>
</svg></body></html>
